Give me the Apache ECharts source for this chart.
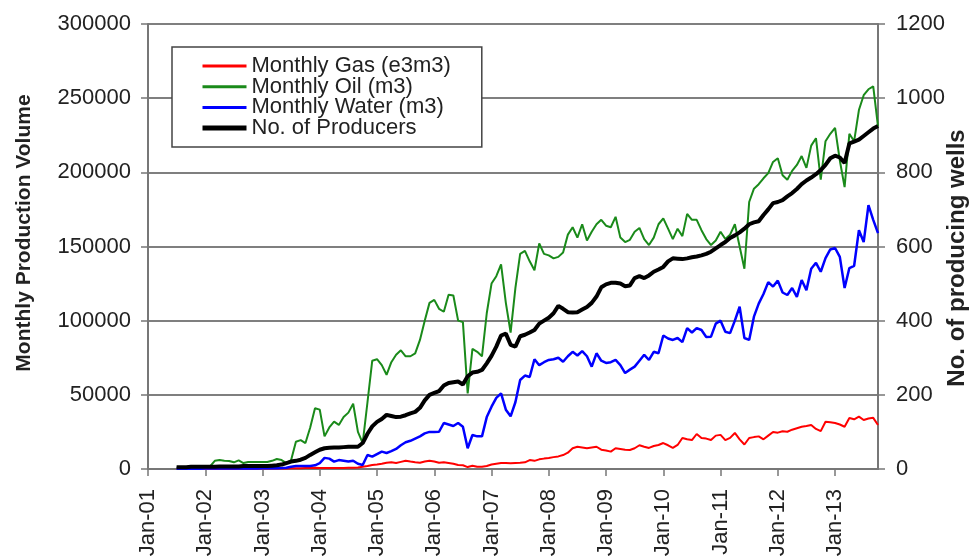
<!DOCTYPE html>
<html>
<head>
<meta charset="utf-8">
<script src="https://cdn.jsdelivr.net/npm/echarts@6/dist/echarts.min.js"></script>
<style>
html,body{margin:0;padding:0;background:#fff;}
#chart{width:973px;height:558px;}
</style>
</head>
<body>
<div id="chart"></div>
<script>
// Axis: monthly categories Jan-01 .. Oct-13
const monthNames = ['Jan','Feb','Mar','Apr','May','Jun','Jul','Aug','Sep','Oct','Nov','Dec'];
const firstYear = 2001, lastYear = 2013, lastMonthOfLastYear = 9; // Oct-13
const yearTickLabels = ['Jan-01','Jan-02','Jan-03','Jan-04','Jan-05','Jan-06','Jan-07','Jan-08','Jan-09','Jan-10','Jan-11','Jan-12','Jan-13'];
const dataStartIndex = 6; // data begins Jul-01

// Monthly Gas (e3m3), Jul-01 .. Oct-13
const gas = [
  100,100,100,150,150,150,
  200,200,200,200,250,250,250,300,300,300,300,300,
  300,300,350,350,400,400,450,500,500,600,700,800,
  700,700,700,700,700,700,800,900,1000,1500,2000,2700,
  3000,3500,4200,4500,4000,4800,5600,5000,4500,4200,5000,5600,
  5000,4200,4500,4000,3500,2700,2500,1300,2200,1500,1500,2000,
  3000,3500,4000,4000,3800,4100,4200,4500,6000,5500,6500,7000,
  7400,8000,8500,9400,11000,14000,15000,14500,14000,14500,15000,13000,
  12500,11700,14000,13500,13000,12800,14000,16000,15000,14200,15500,16200,
  17500,16000,14200,16200,20900,20000,19500,23600,20900,20500,19500,22500,
  23000,19500,21000,24300,20000,16500,20900,21500,22000,20000,22500,25000,
  24500,25500,25100,26500,27500,28500,29000,29700,27000,25500,31900,31500,
  31000,30000,28500,34400,33500,35300,33000,34000,34500,29700
];
// Monthly Oil (m3)
const oil = [
  1000,1000,1200,1200,1500,1500,
  1500,1800,5500,6000,5500,5400,4500,5800,4000,4700,4800,4700,
  4700,4700,5500,6700,6000,4000,6000,18400,19500,17500,28000,41000,
  40000,22000,28000,31900,29700,35000,38000,44000,25000,17500,45000,73000,
  74000,70000,63500,72000,77000,80000,76000,76000,78000,87000,100000,112000,
  114000,108000,106000,117500,117000,100000,99000,51000,81000,79000,76000,105000,
  125000,130000,138000,112000,92000,122000,145000,147000,140000,134000,152000,145000,
  144000,142000,143000,146000,158000,163000,156000,165000,154000,160000,165000,168000,
  164000,163000,170000,156000,153000,154500,160000,162500,155000,151000,156000,165000,
  169000,162000,155000,162000,157000,172000,168000,168000,161000,155000,151000,154000,
  160000,155000,158000,165000,150000,135000,180000,189000,192000,196000,199500,207000,
  209500,198000,195000,201000,205000,211000,203000,218000,223000,195000,221000,226000,
  230000,208000,190000,226000,221000,242000,252000,256000,258000,231000
];
// Monthly Water (m3)
const water = [
  200,200,200,200,200,200,
  300,300,300,300,300,300,300,400,400,400,400,400,
  500,500,500,500,600,800,1500,2000,2000,2000,2000,2500,
  4000,7500,7000,5000,6000,5500,5000,5600,3500,2700,9400,8300,
  10000,11700,10800,12000,13500,16000,18000,19000,20500,22000,24000,25000,
  25000,25100,31000,30000,29000,31000,28500,14000,22900,22000,22000,35000,
  42000,48000,51000,40000,35500,45000,60000,63000,62000,74000,70000,72000,
  73500,74000,75000,72300,76000,79000,76500,79500,76000,69000,78000,73000,
  71500,72000,73500,70100,64700,67000,69000,73000,77000,73500,79000,78000,
  90000,88000,87000,88300,85500,95000,92000,95000,93700,89000,89200,98000,
  100000,92500,91600,100000,109400,88300,87000,102700,111500,118000,126000,123000,
  127000,119000,117300,122000,116000,127400,120600,135000,139000,133000,142200,148000,
  149000,143000,122000,135500,137000,161000,153000,177900,168000,159000
];
// No. of Producers (right axis)
const producers = [
  5,5,5,6,6,6,
  6,6,6,7,7,7,7,7,8,8,8,8,
  8,8,9,10,12,16,20,22,25,30,38,45,
  52,56,57,58,58,59,60,60,60,70,95,115,
  127,135,146,143,140,141,145,150,154,165,185,200,
  205,210,225,232,234,236,228,250,260,262,267,285,
  305,330,360,365,335,330,358,362,368,375,392,400,
  408,420,440,432,423,422,423,430,437,448,465,490,
  498,502,502,500,493,495,515,520,515,522,532,538,
  545,560,568,567,566,568,571,573,576,580,586,595,
  604,612,623,630,638,648,660,665,668,685,700,717,
  720,725,735,744,755,768,778,786,795,806,820,838,
  845,840,825,878,883,888,898,908,918,925
];

const leftTicks = {min: 0, max: 300000, interval: 50000};
const rightTicks = {min: 0, max: 1200, interval: 200};

// build category list
const categories = [];
for (let y = firstYear; y <= lastYear; y++) {
  const lastM = (y === lastYear) ? lastMonthOfLastYear : 11;
  for (let m = 0; m <= lastM; m++) {
    categories.push(monthNames[m] + '-' + String(y % 100).padStart(2, '0'));
  }
}
function pad(arr) {
  const out = new Array(dataStartIndex).fill(null).concat(arr);
  while (out.length < categories.length) out.push(null);
  return out;
}
const isYearStart = (idx) => yearTickLabels.indexOf(categories[idx]) >= 0;

const FONT = '"Liberation Sans", Arial, sans-serif';
const TXT = '#222';
const noSym = {opacity: 0};

const chart = echarts.init(document.getElementById('chart'), null, {renderer: 'canvas'});
chart.setOption({
  animation: false,
  backgroundColor: '#fff',
  textStyle: {fontFamily: FONT},
  grid: {left: 148, right: 95, top: 24, bottom: 89, containLabel: false, outerBoundsMode: 'none'},
  legend: {
    orient: 'vertical',
    left: 172, top: 47,
    padding: [8, 31, 8, 28],
    itemGap: -1.3,
    itemWidth: 44, itemHeight: 14,
    backgroundColor: '#fff',
    borderColor: '#444', borderWidth: 1.5, borderRadius: 0,
    textStyle: {fontFamily: FONT, fontSize: 22, color: TXT, lineHeight: 20},
    data: [
      {name: 'Monthly Gas (e3m3)', lineStyle: {width: 3}, itemStyle: noSym},
      {name: 'Monthly Oil (m3)', lineStyle: {width: 3}, itemStyle: noSym},
      {name: 'Monthly Water (m3)', lineStyle: {width: 3}, itemStyle: noSym},
      {name: 'No. of Producers', lineStyle: {width: 5}, itemStyle: noSym}
    ]
  },
  xAxis: {
    type: 'category',
    data: categories,
    boundaryGap: false,
    axisLine: {lineStyle: {color: '#777', width: 2}},
    axisTick: {show: true, length: 7, interval: (i) => isYearStart(i), lineStyle: {color: '#777', width: 1.5}},
    axisLabel: {
      interval: (i) => isYearStart(i),
      rotate: 90, margin: 20, hideOverlap: false,
      fontFamily: FONT, fontSize: 22, color: TXT
    },
    splitLine: {show: false}
  },
  yAxis: [
    {
      type: 'value', position: 'left',
      min: leftTicks.min, max: leftTicks.max, interval: leftTicks.interval,
      name: 'Monthly Production Volume', nameLocation: 'middle', nameRotate: 90, nameGap: 113,
      nameMoveOverlap: false,
      nameTextStyle: {fontFamily: FONT, fontSize: 21, fontWeight: 'bold', color: TXT, padding: [0, 0, 0, 27]},
      axisLine: {show: true, lineStyle: {color: '#777', width: 2}},
      axisTick: {show: true, length: 7, lineStyle: {color: '#777', width: 1.5}},
      axisLabel: {margin: 17, fontFamily: FONT, fontSize: 22, color: TXT, formatter: (v) => String(v)},
      splitLine: {show: true, lineStyle: {color: '#555', width: 1.5}}
    },
    {
      type: 'value', position: 'right',
      min: rightTicks.min, max: rightTicks.max, interval: rightTicks.interval,
      name: 'No. of producing wells', nameLocation: 'middle', nameRotate: 90, nameGap: 67,
      nameMoveOverlap: false,
      nameTextStyle: {fontFamily: FONT, fontSize: 24, fontWeight: 'bold', color: TXT, padding: [0, 23, 0, 0]},
      axisLine: {show: true, lineStyle: {color: '#777', width: 2}},
      axisTick: {show: true, length: 7, lineStyle: {color: '#777', width: 1.5}},
      axisLabel: {margin: 18, fontFamily: FONT, fontSize: 22, color: TXT, formatter: (v) => String(v)},
      splitLine: {show: false}
    }
  ],
  series: [
    {name: 'Monthly Gas (e3m3)', type: 'line', yAxisIndex: 0, data: pad(gas), symbol: 'none',
     itemStyle: {color: '#ff0000'}, lineStyle: {color: '#ff0000', width: 2}},
    {name: 'Monthly Oil (m3)', type: 'line', yAxisIndex: 0, data: pad(oil), symbol: 'none',
     itemStyle: {color: '#1a8a1a'}, lineStyle: {color: '#1a8a1a', width: 2}},
    {name: 'Monthly Water (m3)', type: 'line', yAxisIndex: 0, data: pad(water), symbol: 'none',
     itemStyle: {color: '#0000ff'}, lineStyle: {color: '#0000ff', width: 2.5}},
    {name: 'No. of Producers', type: 'line', yAxisIndex: 1, data: pad(producers), symbol: 'none',
     itemStyle: {color: '#000000'}, lineStyle: {color: '#000000', width: 4}}
  ]
});
</script>
</body>
</html>
